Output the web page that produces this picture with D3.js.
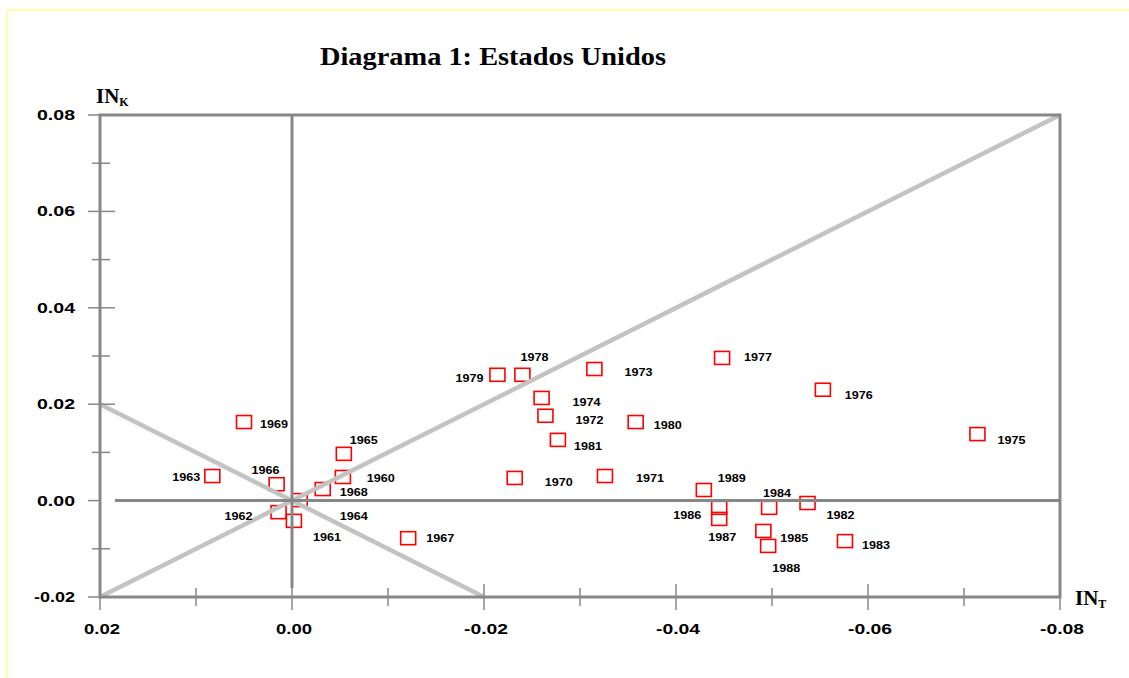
<!DOCTYPE html>
<html>
<head>
<meta charset="utf-8">
<script src="https://cdn.jsdelivr.net/npm/d3@7"></script>
<style>
  html, body { margin: 0; padding: 0; background: #ffffff; }
  svg { display: block; }
  .tick-label { font-family: "Liberation Sans", Arial, sans-serif; font-weight: bold; font-size: 15px; fill: #000; }
  .year { font-family: "Liberation Sans", Arial, sans-serif; font-weight: bold; font-size: 10px; fill: #000; }
  .serif { font-family: "Liberation Serif", "Times New Roman", serif; font-weight: bold; fill: #000; }
</style>
</head>
<body>
<svg id="chart" width="1129" height="678"></svg>
<script>
// Years and their (IN_T, IN_K) coordinates
const years = [1960, 1961, 1962, 1963, 1964, 1965, 1966, 1967, 1968, 1969,
               1970, 1971, 1972, 1973, 1974, 1975, 1976, 1977, 1978, 1979,
               1980, 1981, 1982, 1983, 1984, 1985, 1986, 1987, 1988, 1989];
const inT = [-0.0053, -0.0002, 0.0014, 0.0083, -0.0008, -0.0054, 0.0016, -0.0121, -0.0032, 0.0050,
             -0.0232, -0.0326, -0.0264, -0.0315, -0.0260, -0.0714, -0.0553, -0.0448, -0.0240, -0.0214,
             -0.0358, -0.0277, -0.0537, -0.0576, -0.0497, -0.0491, -0.0445, -0.0445, -0.0496, -0.0429];
const inK = [0.0049, -0.0042, -0.0024, 0.0051, 0.0001, 0.0097, 0.0034, -0.0078, 0.0024, 0.0163,
             0.0047, 0.0051, 0.0176, 0.0273, 0.0213, 0.0138, 0.0230, 0.0296, 0.0261, 0.0261,
             0.0163, 0.0126, -0.0005, -0.0084, -0.0015, -0.0063, -0.0015, -0.0038, -0.0094, 0.0022];

// Axis ticks
const xTicks = [0.02, 0.00, -0.02, -0.04, -0.06, -0.08];
const yTicks = [0.08, 0.06, 0.04, 0.02, 0.00, -0.02];
const minorTicks = [-0.01, 0.01, 0.03, 0.05, 0.07];
const xMinor = [0.01, -0.01, -0.03, -0.05, -0.07];

// Reference lines (IN_K = -IN_T and IN_K = IN_T)
const refLines = [
  [[0.02, -0.02], [-0.08, 0.08]],
  [[0.02, 0.02], [-0.02, -0.02]]
];

// Label placement for each year: offset of text start from the marker, in pixels
const labelOffsets = [
  [24, 1], [19, 16], [-54, 4], [-40, 1], [40, 16], [6, -14], [-25, -14], [18, 0], [17, 3], [16, 2],
  [30, 4], [31, 2], [30, 4], [30, 3], [31, 4], [20, 6], [22, 5], [22, -1], [-2, -18], [-42, 3],
  [18, 3], [16, 6], [19, 12], [17, 4], [-6, -15], [17, 7], [-46, 7], [-11, 18], [4, 22], [14, -12]
];

const svg = d3.select("#chart");
const x = d3.scaleLinear().domain([0.02, -0.08]).range([100, 1060]);
const y = d3.scaleLinear().domain([-0.02, 0.08]).range([597, 115]);
const axisGray = "#878787";

// outer frame
svg.append("rect").attr("x", 7).attr("y", 10).attr("width", 1140).attr("height", 700)
  .attr("fill", "none").attr("stroke", "#ffffa6").attr("stroke-width", 2);

// title
svg.append("text").attr("class", "serif").attr("x", 493).attr("y", 65)
  .attr("text-anchor", "middle").attr("font-size", 26)
  .attr("textLength", 346).attr("lengthAdjust", "spacingAndGlyphs")
  .text("Diagrama 1: Estados Unidos");

// axis titles
const ik = svg.append("text").attr("class", "serif").attr("x", 96).attr("y", 103).attr("font-size", 21);
ik.append("tspan").text("IN");
ik.append("tspan").attr("font-size", 12).attr("dy", 3).text("K");
const it = svg.append("text").attr("class", "serif").attr("x", 1075).attr("y", 605).attr("font-size", 21);
it.append("tspan").text("IN");
it.append("tspan").attr("font-size", 12).attr("dy", 3).text("T");

// markers
const pts = years.map((yr, i) => ({ yr, t: inT[i], k: inK[i], off: labelOffsets[i] }));
svg.append("g").selectAll("rect").data(pts).join("rect")
  .attr("x", d => x(d.t) - 7.5).attr("y", d => y(d.k) - 6.5)
  .attr("width", 15).attr("height", 13)
  .attr("fill", "none").attr("stroke", "#ff0000").attr("stroke-width", 1.6);

// diagonal reference lines
svg.append("g").selectAll("line").data(refLines).join("line")
  .attr("x1", d => x(d[0][0])).attr("y1", d => y(d[0][1]))
  .attr("x2", d => x(d[1][0])).attr("y2", d => y(d[1][1]))
  .attr("stroke", "#c3c3c3").attr("stroke-width", 4.5);

// zero lines
svg.append("line").attr("x1", x(0)).attr("x2", x(0)).attr("y1", y(0.08)).attr("y2", 588)
  .attr("stroke", axisGray).attr("stroke-width", 3);
svg.append("line").attr("x1", 115).attr("x2", x(-0.08)).attr("y1", y(0)).attr("y2", y(0))
  .attr("stroke", axisGray).attr("stroke-width", 3);

// plot frame
svg.append("path")
  .attr("d", `M${x(0.02)},${y(-0.02)}V${y(0.08)}H${x(-0.08)}V${y(-0.02)}Z`)
  .attr("fill", "none").attr("stroke", axisGray).attr("stroke-width", 3);

// y axis ticks
const yAxis = svg.append("g");
yAxis.selectAll("line.major").data(yTicks).join("line").attr("class", "major")
  .attr("x1", 88).attr("x2", d => d === 0 ? 100 : 115)
  .attr("y1", d => y(d)).attr("y2", d => y(d))
  .attr("stroke", axisGray).attr("stroke-width", 1.5);
yAxis.selectAll("line.minor").data(minorTicks).join("line").attr("class", "minor")
  .attr("x1", 92).attr("x2", 110)
  .attr("y1", d => y(d)).attr("y2", d => y(d))
  .attr("stroke", axisGray).attr("stroke-width", 1.5);
yAxis.selectAll("text").data(yTicks).join("text").attr("class", "tick-label")
  .attr("x", 75).attr("y", d => y(d) + 5).attr("text-anchor", "end")
  .attr("textLength", d => d < 0 ? 41 : 38).attr("lengthAdjust", "spacingAndGlyphs")
  .text(d => d3.format(".2f")(d).replace("−", "-"));

// x axis ticks
const xAxis = svg.append("g");
xAxis.selectAll("line.major").data(xTicks).join("line").attr("class", "major")
  .attr("x1", d => x(d)).attr("x2", d => x(d))
  .attr("y1", 584).attr("y2", 610)
  .attr("stroke", axisGray).attr("stroke-width", 1.5);
xAxis.selectAll("line.minor").data(xMinor).join("line").attr("class", "minor")
  .attr("x1", d => x(d)).attr("x2", d => x(d))
  .attr("y1", 588).attr("y2", 606)
  .attr("stroke", axisGray).attr("stroke-width", 1.5);
xAxis.selectAll("text").data(xTicks).join("text").attr("class", "tick-label")
  .attr("x", d => x(d) + 2).attr("y", 634).attr("text-anchor", "middle")
  .attr("textLength", d => d < 0 ? 44 : 36).attr("lengthAdjust", "spacingAndGlyphs")
  .text(d => d3.format(".2f")(d).replace("−", "-"));

// year labels
svg.append("g").selectAll("text").data(pts).join("text").attr("class", "year")
  .attr("x", d => x(d.t) + d.off[0]).attr("y", d => y(d.k) + d.off[1] + 4)
  .attr("textLength", 28).attr("lengthAdjust", "spacingAndGlyphs")
  .text(d => d.yr);
</script>
</body>
</html>
